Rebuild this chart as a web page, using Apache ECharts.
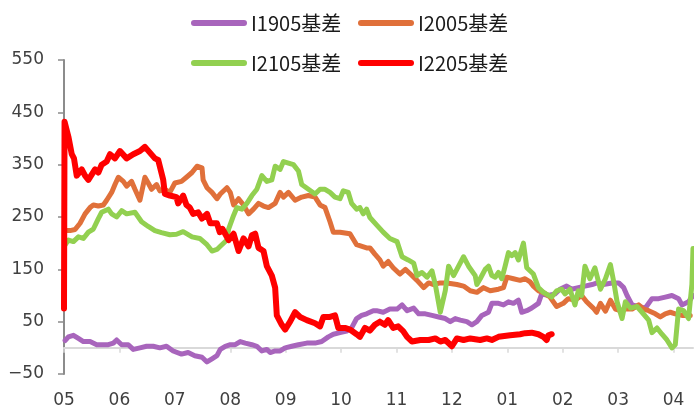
<!DOCTYPE html>
<html>
<head>
<meta charset="utf-8">
<script src="https://cdn.jsdelivr.net/npm/echarts@6/dist/echarts.min.js"></script>
<style>html,body{margin:0;padding:0;background:#fff}#c{width:694px;height:409px}</style>
</head>
<body>
<div id="c"></div>
<script>
// x = months since the "05" tick, y = basis value
const tickLabels = ['05','06','07','08','09','10','11','12','01','02','03','04'];
const seriesNames = ['I1905基差','I2005基差','I2105基差','I2205基差'];

const i1905 = [[0.02,14],[0.08,21],[0.17,24],[0.26,18],[0.35,12],[0.47,12],[0.59,6],[0.80,6],[0.89,9],[0.95,15],[1.04,6],[1.16,6],[1.25,-3],[1.37,0],[1.49,3],[1.61,3],[1.73,0],[1.85,3],[1.97,-6],[2.12,-12],[2.24,-9],[2.36,-15],[2.49,-18],[2.58,-27],[2.67,-21],[2.76,-15],[2.82,-3],[2.91,3],[3.00,6],[3.09,6],[3.18,12],[3.27,9],[3.39,6],[3.48,3],[3.57,-6],[3.66,-3],[3.72,-9],[3.81,-6],[3.90,-6],[3.99,0],[4.11,3],[4.23,6],[4.38,9],[4.53,9],[4.65,12],[4.77,21],[4.86,26],[4.98,29],[5.10,32],[5.19,38],[5.28,56],[5.37,62],[5.46,65],[5.58,71],[5.64,71],[5.76,68],[5.88,74],[6.01,74],[6.10,82],[6.19,71],[6.31,76],[6.40,65],[6.52,65],[6.64,62],[6.76,59],[6.88,56],[6.97,50],[7.06,56],[7.15,53],[7.27,50],[7.36,44],[7.45,50],[7.54,62],[7.66,68],[7.72,85],[7.84,85],[7.93,82],[8.02,88],[8.11,85],[8.20,91],[8.26,68],[8.35,71],[8.44,76],[8.56,85],[8.62,103],[8.74,100],[8.86,103],[8.95,112],[9.07,118],[9.16,112],[9.28,115],[9.40,118],[9.53,121],[9.62,124],[9.73,121],[9.89,124],[10.01,124],[10.10,115],[10.16,100],[10.25,82],[10.37,79],[10.49,76],[10.61,94],[10.73,94],[10.85,97],[10.97,100],[11.09,94],[11.15,82],[11.27,88],[11.35,100]];

const i2005 = [[0.02,224],[0.11,224],[0.20,226],[0.29,238],[0.38,256],[0.47,268],[0.53,273],[0.62,271],[0.71,273],[0.77,282],[0.86,297],[0.92,312],[0.98,326],[1.07,318],[1.13,309],[1.22,318],[1.28,303],[1.37,282],[1.46,326],[1.52,315],[1.58,303],[1.67,312],[1.73,300],[1.82,303],[1.91,297],[2.00,315],[2.12,318],[2.21,326],[2.31,335],[2.40,347],[2.49,344],[2.51,321],[2.58,306],[2.67,297],[2.76,285],[2.82,294],[2.85,297],[2.94,306],[3.00,297],[3.06,273],[3.15,285],[3.24,273],[3.33,256],[3.42,265],[3.51,276],[3.60,271],[3.69,268],[3.81,276],[3.90,297],[3.96,288],[4.05,297],[4.17,282],[4.29,288],[4.41,291],[4.53,288],[4.62,273],[4.71,268],[4.80,241],[4.86,221],[4.98,221],[5.16,218],[5.28,197],[5.46,191],[5.52,191],[5.61,179],[5.70,168],[5.76,156],[5.85,165],[5.94,153],[6.06,141],[6.16,150],[6.25,141],[6.37,129],[6.49,115],[6.58,124],[6.67,121],[6.79,124],[6.91,124],[7.09,121],[7.21,118],[7.33,109],[7.45,106],[7.57,115],[7.69,109],[7.84,112],[7.93,115],[7.99,135],[8.11,132],[8.23,129],[8.32,132],[8.41,126],[8.47,118],[8.56,109],[8.65,106],[8.77,97],[8.89,79],[9.01,85],[9.10,94],[9.22,91],[9.34,100],[9.43,88],[9.55,76],[9.61,68],[9.68,85],[9.77,70],[9.86,91],[9.95,74],[10.04,71],[10.13,74],[10.25,74],[10.37,82],[10.46,74],[10.55,71],[10.67,65],[10.76,59],[10.85,65],[10.94,68],[11.03,65],[11.15,62],[11.30,62]];

const i2105 = [[0.02,197],[0.08,206],[0.17,203],[0.26,212],[0.35,209],[0.44,221],[0.53,227],[0.62,247],[0.68,259],[0.80,265],[0.86,256],[0.95,250],[1.04,262],[1.13,256],[1.28,259],[1.40,241],[1.52,232],[1.64,224],[1.76,220],[1.91,216],[2.03,217],[2.15,222],[2.31,212],[2.45,209],[2.58,197],[2.67,185],[2.76,188],[2.82,194],[2.85,191],[2.94,206],[2.97,227],[3.06,253],[3.12,268],[3.21,265],[3.30,276],[3.39,291],[3.48,303],[3.57,329],[3.66,318],[3.75,321],[3.81,347],[3.90,341],[3.96,356],[4.05,353],[4.14,350],[4.23,338],[4.29,312],[4.41,303],[4.53,294],[4.62,303],[4.71,303],[4.80,297],[4.89,288],[4.98,285],[5.04,300],[5.13,297],[5.19,276],[5.28,265],[5.34,268],[5.40,256],[5.46,265],[5.52,249],[5.64,235],[5.76,221],[5.88,209],[6.01,203],[6.10,174],[6.21,168],[6.31,162],[6.37,138],[6.46,144],[6.55,135],[6.64,147],[6.70,121],[6.79,68],[6.88,109],[6.94,156],[7.03,138],[7.12,156],[7.21,174],[7.30,156],[7.42,138],[7.45,121],[7.51,132],[7.60,150],[7.66,156],[7.72,138],[7.78,135],[7.84,144],[7.90,132],[7.96,156],[8.02,182],[8.08,176],[8.14,182],[8.20,168],[8.29,200],[8.35,153],[8.47,141],[8.56,115],[8.65,106],[8.80,97],[8.89,109],[8.98,112],[9.04,103],[9.13,112],[9.22,82],[9.28,109],[9.34,100],[9.40,156],[9.49,132],[9.58,153],[9.68,112],[9.77,132],[9.86,159],[9.92,126],[9.98,88],[10.07,56],[10.13,88],[10.22,76],[10.34,79],[10.43,68],[10.55,53],[10.61,29],[10.70,38],[10.79,26],[10.88,15],[10.97,0],[11.03,6],[11.09,74],[11.18,71],[11.27,56],[11.33,121],[11.35,190]];

const i2205 = [[0,75],[0.01,432],[0.08,403],[0.14,370],[0.18,362],[0.23,329],[0.32,341],[0.38,329],[0.44,321],[0.56,341],[0.62,335],[0.68,350],[0.77,356],[0.83,370],[0.92,362],[1.01,376],[1.13,362],[1.25,370],[1.37,376],[1.46,384],[1.55,373],[1.64,362],[1.70,359],[1.79,321],[1.82,294],[1.91,291],[2.03,288],[2.06,276],[2.15,291],[2.21,273],[2.27,268],[2.33,256],[2.42,259],[2.49,247],[2.58,256],[2.64,238],[2.76,238],[2.81,221],[2.86,227],[2.97,206],[3.06,218],[3.15,185],[3.24,209],[3.33,194],[3.39,215],[3.45,218],[3.51,191],[3.60,185],[3.66,156],[3.75,138],[3.81,115],[3.84,62],[3.93,44],[3.99,35],[4.08,50],[4.17,68],[4.26,59],[4.38,53],[4.53,47],[4.62,41],[4.68,59],[4.80,59],[4.89,62],[4.95,38],[5.07,38],[5.16,35],[5.28,26],[5.34,21],[5.43,38],[5.52,33],[5.61,44],[5.70,50],[5.79,44],[5.85,53],[5.94,38],[6.03,41],[6.12,32],[6.19,21],[6.28,12],[6.43,15],[6.58,15],[6.70,18],[6.79,12],[6.88,15],[7.00,3],[7.09,18],[7.21,15],[7.33,18],[7.51,15],[7.63,18],[7.72,15],[7.84,21],[8.05,24],[8.23,26],[8.32,28],[8.44,29],[8.56,26],[8.65,21],[8.71,15],[8.74,24],[8.80,26]];

const seriesData = [i1905, i2005, i2105, i2205];
const colors = ['#A865BC','#E0703A','#92D050','#FF0000'];
const widths = [5, 5, 5, 6];

const pill = 'path://M3,0 L53,0 A3,3 0 0 1 53,6 L3,6 A3,3 0 0 1 3,0 Z';
const legendPos = [[191,13],[358,13],[191,53],[358,53]];

const chart = echarts.init(document.getElementById('c'), null, {renderer:'canvas'});
chart.setOption({
  animation: false,
  backgroundColor: '#fff',
  grid: {left: 64, right: 1, top: 60, bottom: 9},
  legend: seriesNames.map((n, i) => ({
    data: [n],
    left: legendPos[i][0], top: legendPos[i][1],
    icon: pill, itemWidth: 56, itemHeight: 6,
    padding: 0,
    textStyle: {fontFamily: '"Noto Sans CJK SC", sans-serif', fontSize: 20, lineHeight: 20, color: '#1a1a1a', padding: [0,0,0,-1]}
  })),
  xAxis: {
    type: 'value', min: 0, max: 11.35, interval: 1,
    axisLine: {onZero: true, lineStyle: {color: '#d9d9d9', width: 2}},
    axisTick: {show: true, length: 5, lineStyle: {color: '#d9d9d9', width: 1.5}, customValues: tickLabels.map((t, i) => i)},
    axisLabel: {margin: 18, fontFamily: '"DejaVu Sans", sans-serif', fontSize: 17, color: '#404040',
      customValues: tickLabels.map((t, i) => i),
      formatter: v => (Number.isInteger(v) && tickLabels[v] !== undefined) ? tickLabels[v] : ''},
    splitLine: {show: false}
  },
  yAxis: {
    type: 'value', min: -50, max: 550, interval: 100,
    axisLine: {show: true, onZero: false, lineStyle: {color: '#8c8c8c', width: 2}},
    axisTick: {show: true, length: 6, lineStyle: {color: '#8c8c8c', width: 1.5}},
    axisLabel: {margin: 20, fontFamily: '"DejaVu Sans", sans-serif', fontSize: 17, color: '#404040',
      formatter: v => String(v).replace('-', '\u2212')},
    splitLine: {show: false}
  },
  series: seriesNames.map((n, i) => ({
    name: n, type: 'line', data: seriesData[i],
    showSymbol: false, symbol: 'none', smooth: false,
    lineStyle: {color: colors[i], width: widths[i], cap: 'round', join: 'round'},
    itemStyle: {color: colors[i]}
  }))
});
</script>
</body>
</html>
